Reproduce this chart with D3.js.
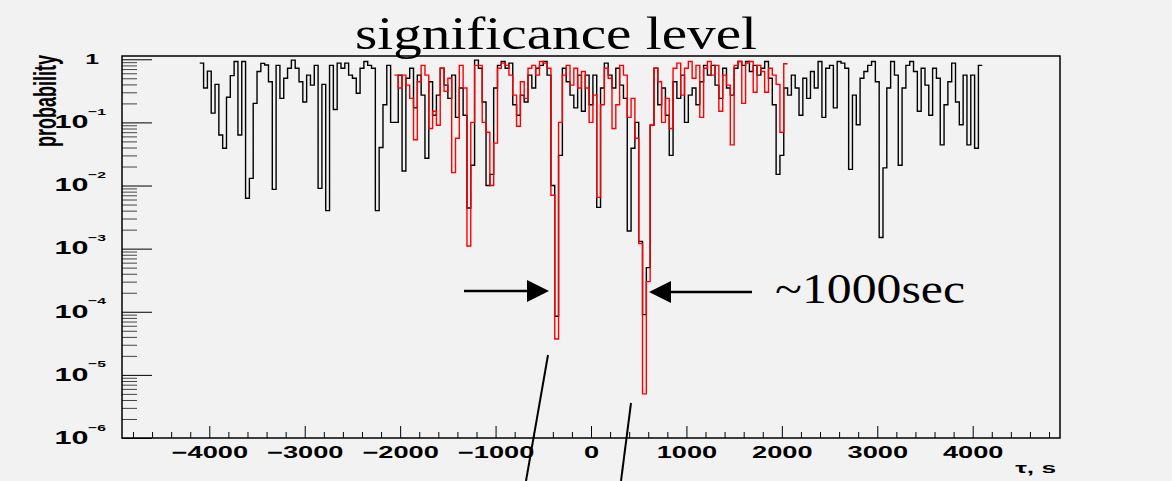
<!DOCTYPE html>
<html>
<head>
<meta charset="utf-8">
<script src="https://cdn.jsdelivr.net/npm/d3@7/dist/d3.min.js"></script>
<style>
  html, body { margin: 0; padding: 0; background: #f2f2f2; }
  svg { display: block; }
</style>
</head>
<body>
<svg id="chart" width="1172" height="481"></svg>
<script>
// ---------------- data ----------------
const binWidth = 40;          // seconds per bin
const blackStart = -4100;     // left edge of first black bin
const redStart = -2060;       // left edge of first red bin

const blackProb = [
  0.87,0.35,0.65,0.14,0.4,0.063,0.039,0.25,0.55,0.92,
  0.063,0.92,0.0063,0.013,0.2,0.64,0.86,0.81,0.44,0.0087,
  0.8,0.24,0.5,0.72,0.97,0.72,0.44,0.21,0.56,0.39,
  0.8,0.009,0.4,0.004,0.8,0.16,0.87,0.72,0.87,0.56,
  0.5,0.29,0.72,0.92,0.8,0.72,0.004,0.04,0.19,0.8,
  0.1,0.1,0.56,0.017,0.5,0.72,0.17,0.56,0.27,0.027,
  0.44,0.13,0.27,0.72,0.39,0.24,0.56,0.12,0.35,0.13,
  0.0044,0.021,0.97,0.72,0.21,0.01,0.015,0.35,0.8,0.92,
  0.72,0.87,0.19,0.13,0.27,0.21,0.56,0.35,0.72,0.8,
  0.92,0.56,0.01,8.5e-5,0.03,0.72,0.44,0.27,0.17,0.56,
  0.15,0.56,0.19,0.56,0.0045,0.35,0.87,0.56,0.35,0.72,
  0.39,0.24,0.0019,0.039,0.1,0.0013,9e-5,5e-4,0.09,0.72,
  0.19,0.35,0.13,0.03,0.44,0.24,0.56,0.1,0.27,0.35,
  0.19,0.44,0.8,0.56,0.8,0.39,0.24,0.72,0.35,0.27,
  0.72,0.92,0.8,0.92,0.64,0.8,0.56,0.72,0.92,0.5,
  0.19,0.015,0.03,0.35,0.27,0.56,0.35,0.13,0.5,0.24,
  0.64,0.35,0.92,0.12,0.72,0.8,0.17,0.92,0.87,0.72,
  0.018,0.27,0.092,0.5,0.64,0.8,0.92,0.44,0.0015,0.019,
  0.35,0.92,0.56,0.021,0.35,0.8,0.92,0.64,0.15,0.72,
  0.39,0.13,0.72,0.5,0.044,0.19,0.44,0.87,0.21,0.092,
  0.56,0.044,0.56,0.039,0.8
];

const redProb = [
  0.56,0.35,0.56,0.39,0.24,0.053,0.44,0.8,0.56,0.08,
  0.15,0.09,0.72,0.31,0.5,0.016,0.056,0.8,0.35,0.0011,
  0.1,0.8,0.8,0.1,0.07,0.01,0.047,0.72,0.87,0.8,
  0.56,0.27,0.087,0.44,0.24,0.72,0.8,0.56,0.92,0.87,
  0.72,0.007,3.7e-5,0.1,0.56,0.8,0.39,0.72,0.35,0.64,
  0.35,0.1,0.27,0.0065,0.19,0.72,0.5,0.08,0.19,0.8,
  0.56,0.12,0.24,0.056,0.0012,5e-6,3e-4,0.09,0.72,0.44,
  0.1,0.24,0.08,0.72,0.87,0.27,0.72,0.92,0.5,0.8,
  0.12,0.72,0.92,0.56,0.8,0.15,0.56,0.39,0.044,0.8,
  0.92,0.2,0.87,0.92,0.3,0.8,0.64,0.3,0.72,0.56,
  0.4,0.07,0.85
];

const xMajorTicks = [-4000,-3000,-2000,-1000,0,1000,2000,3000,4000];
const xTickLabels = ["\u22124000","\u22123000","\u22122000","\u22121000","0","1000","2000","3000","4000"];
const yDecades = [1,1e-1,1e-2,1e-3,1e-4,1e-5,1e-6];
const yExponents = ["0","\u22121","\u22122","\u22123","\u22124","\u22125","\u22126"];

const titleText = "significance level";
const annotationText = "~1000sec";
const yAxisTitle = "probability";
const xAxisTitle = "\u03C4, s";

// ---------------- layout ----------------
const svg = d3.select("#chart");
const L = 122, R = 1060, T = 56, B = 438;
const SX = 1.65; // horizontal stretch of the original bitmap fonts

const x = d3.scaleLinear().domain([-4915, 4915]).range([L, R]);
const y = d3.scaleLog().domain([1e-6, 1.127]).range([B, T]);

svg.append("rect").attr("x",0).attr("y",0).attr("width",1172).attr("height",481).attr("fill","#f2f2f2");

// ---- x axis ticks (inside, pointing up) ----
const xMinor = d3.range(-4800, 4801, 200).filter(v => v % 1000 !== 0);
const gxMinor = svg.append("g").attr("transform", `translate(0,${B})`)
  .call(d3.axisBottom(x).tickValues(xMinor).tickSize(-6).tickFormat(""));
const gxMajor = svg.append("g").attr("transform", `translate(0,${B})`)
  .call(d3.axisBottom(x).tickValues(xMajorTicks).tickSize(-12)
        .tickFormat((d,i) => xTickLabels[i]));
[gxMinor, gxMajor].forEach(g => {
  g.select(".domain").remove();
  g.selectAll("line").attr("stroke","#000").attr("stroke-width",1);
});
gxMajor.selectAll("text")
  .attr("x",0).attr("y",0).attr("dy",null)
  .attr("transform", "translate(0,20.3) scale(" + SX + ",1)")
  .attr("font-family","'Liberation Sans', Arial, sans-serif")
  .attr("font-weight","bold").attr("font-size",16.5).attr("fill","#000");

// ---- y axis ticks (inside, pointing right) ----
const yMinor = [];
for (let e = -6; e < 0; e++) for (let m = 2; m <= 9; m++) yMinor.push(m * Math.pow(10, e));
const gyMinor = svg.append("g").attr("transform", `translate(${L},0)`)
  .call(d3.axisLeft(y).tickValues(yMinor).tickSize(-15).tickFormat(""));
const gyMajor = svg.append("g").attr("transform", `translate(${L},0)`)
  .call(d3.axisLeft(y).tickValues(yDecades).tickSize(-30).tickFormat(""));
[gyMinor, gyMajor].forEach(g => {
  g.select(".domain").remove();
  g.selectAll("line").attr("stroke","#000").attr("stroke-width",1);
});
gyMinor.selectAll("line").attr("stroke","#444");

// y tick labels (10 with superscript exponent)
const yLab = svg.append("g")
  .attr("font-family","'Liberation Sans', Arial, sans-serif")
  .attr("font-weight","bold").attr("fill","#000");
yDecades.forEach((d, i) => {
  const ty = y(d);
  if (d === 1) {
    yLab.append("text")
      .attr("transform", `translate(99,${ty + 4.5}) scale(${SX},1)`)
      .attr("text-anchor","end").attr("font-size",15).text("1");
  } else {
    yLab.append("text")
      .attr("transform", `translate(88.5,${ty + 5.8}) scale(${SX},1)`)
      .attr("text-anchor","end").attr("font-size",18.5).text("10");
    yLab.append("text")
      .attr("transform", `translate(88,${ty - 7.5}) scale(${SX},1)`)
      .attr("text-anchor","start").attr("font-size",9.5).text(yExponents[i]);
  }
});

// ---- axis titles ----
svg.append("text")
  .attr("transform", `translate(55.5,101) scale(1.7,1) rotate(-90)`)
  .attr("text-anchor","middle")
  .attr("font-family","'Liberation Sans', Arial, sans-serif")
  .attr("font-weight","bold").attr("font-size",18).attr("fill","#000")
  .text(yAxisTitle);

svg.append("text")
  .attr("transform", `translate(1056,473) scale(1.75,1)`)
  .attr("text-anchor","end")
  .attr("font-family","'Liberation Sans', Arial, sans-serif")
  .attr("font-weight","bold").attr("font-size",15).attr("fill","#000")
  .text(xAxisTitle);

// ---- histograms (step lines) ----
function stepPoints(values, start) {
  const pts = values.map((v, i) => [start + i * binWidth, v]);
  pts.push([start + values.length * binWidth, values[values.length - 1]]);
  return pts;
}
const line = d3.line().x(d => x(d[0])).y(d => y(d[1])).curve(d3.curveStepAfter);

svg.append("path").datum(stepPoints(blackProb, blackStart))
  .attr("d", line).attr("fill","none").attr("stroke","#000").attr("stroke-width",1.4);
svg.append("path").datum(stepPoints(redProb, redStart))
  .attr("d", line).attr("fill","none").attr("stroke","#ff0000").attr("stroke-width",1.4);

// ---- frame ----
svg.append("rect").attr("x",L).attr("y",T).attr("width",R-L).attr("height",B-T)
  .attr("fill","none").attr("stroke","#000").attr("stroke-width",1.5);

// ---- title ----
svg.append("text")
  .attr("x",355).attr("y",49)
  .attr("textLength",402).attr("lengthAdjust","spacingAndGlyphs")
  .attr("font-family","'Liberation Serif', 'DejaVu Serif', serif")
  .attr("font-size",46).attr("fill","#000")
  .text(titleText);

// ---- annotation: arrows, label, slanted lines ----
const ann = svg.append("g").attr("fill","#000").attr("stroke","#000");
ann.append("line").attr("x1",464).attr("y1",291).attr("x2",530).attr("y2",291).attr("stroke-width",2.6);
ann.append("path").attr("d","M527,280 L549,291 L527,302 Z").attr("stroke","none");
ann.append("line").attr("x1",668).attr("y1",292).attr("x2",752).attr("y2",292).attr("stroke-width",2.6);
ann.append("path").attr("d","M671,281 L649,292 L671,303 Z").attr("stroke","none");
ann.append("line").attr("x1",548).attr("y1",355).attr("x2",526).attr("y2",481).attr("stroke-width",2);
ann.append("line").attr("x1",631).attr("y1",403).attr("x2",621).attr("y2",481).attr("stroke-width",2);

svg.append("text")
  .attr("x",775).attr("y",303)
  .attr("textLength",190).attr("lengthAdjust","spacingAndGlyphs")
  .attr("font-family","'Liberation Serif', 'DejaVu Serif', serif")
  .attr("font-size",42).attr("fill","#000")
  .text(annotationText);
</script>
</body>
</html>
